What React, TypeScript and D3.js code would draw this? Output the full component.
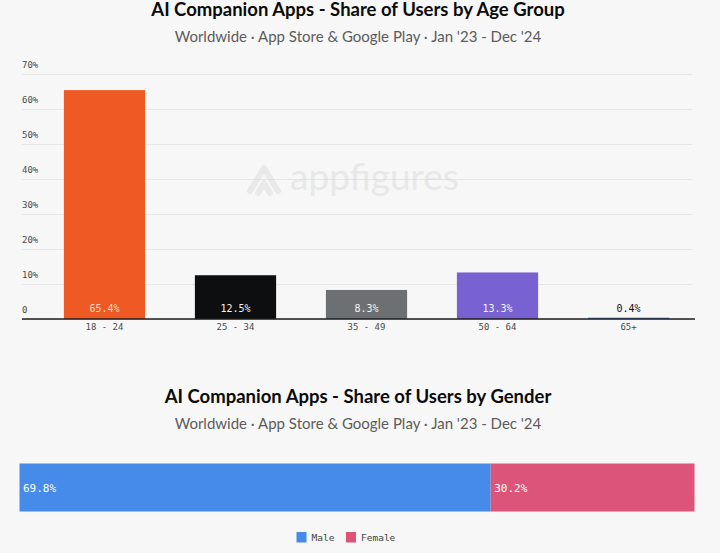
import React, {useEffect, useRef} from "react";
import * as d3 from "d3";

const ageGroups = ["18 - 24", "25 - 34", "35 - 49", "50 - 64", "65+"];
const ageShares = [65.4, 12.5, 8.3, 13.3, 0.4];
const ageColors = ["#ef5a24", "#0c0e0f", "#6c7073", "#7862d2", "#4a8be8"];
const ageTicks = [0, 10, 20, 30, 40, 50, 60, 70];

const genders = ["Male", "Female"];
const genderShares = [69.8, 30.2];
const genderColors = ["#478bea", "#dc5579"];

const subtitle = "Worldwide · App Store & Google Play · Jan '23 - Dec '24";
const sansFont = "Lato, 'Open Sans', sans-serif";
const monoFont = "'DejaVu Sans Mono', monospace";

function createChart(el: SVGSVGElement) {
  const svg = d3.select(el);
  svg.selectAll("*").remove();

  svg.append("rect").attr("width", 720).attr("height", 553).attr("fill", "#f7f7f7");

  const addTitle = (title: string, y: number) => {
    svg
      .append("text")
      .attr("x", 358)
      .attr("y", y)
      .attr("text-anchor", "middle")
      .attr("font-family", sansFont)
      .attr("font-weight", 700)
      .attr("font-size", 18.5)
      .attr("fill", "#0b0b0b")
      .text(title);
    svg
      .append("text")
      .attr("x", 358)
      .attr("y", y + 26)
      .attr("text-anchor", "middle")
      .attr("font-family", sansFont)
      .attr("font-size", 15)
      .attr("fill", "#5c5c5c")
      .text(subtitle);
  };

  addTitle("AI Companion Apps - Share of Users by Age Group", 16);
  addTitle("AI Companion Apps - Share of Users by Gender", 403);

  // Age group bars
  const x = d3
    .scaleBand()
    .domain(ageGroups)
    .range([39, 694])
    .paddingInner(0.38)
    .paddingOuter(0.19);
  const y = d3.scaleLinear().domain([0, 70]).range([319, 74]);

  const yAxis = svg
    .append("g")
    .attr("transform", "translate(22,0)")
    .call(
      d3
        .axisRight(y)
        .tickValues(ageTicks)
        .tickSize(670)
        .tickFormat((d) => (+d === 0 ? "0" : `${d}%`))
    );
  yAxis.select(".domain").remove();
  yAxis.selectAll(".tick line").attr("stroke", "#e6e6e6");
  yAxis
    .selectAll(".tick text")
    .attr("x", 0)
    .attr("dy", "-0.75em")
    .attr("text-anchor", "start")
    .attr("font-family", monoFont)
    .attr("font-size", 9)
    .attr("fill", "#4a4a4a");

  // Watermark
  const mark = svg.append("g").attr("opacity", 0.55);
  mark
    .append("path")
    .attr("d", "M250 191 L264 168 L278 191 M258 193 L264 183 L270 193")
    .attr("fill", "none")
    .attr("stroke", "#dedede")
    .attr("stroke-width", 6)
    .attr("stroke-linejoin", "round")
    .attr("stroke-linecap", "round");
  mark
    .append("text")
    .attr("x", 290)
    .attr("y", 190)
    .attr("font-family", sansFont)
    .attr("font-size", 37)
    .attr("fill", "#dcdcdc")
    .text("appfigures");

  const bars = ageGroups.map((group, i) => ({group, share: ageShares[i], color: ageColors[i]}));

  svg
    .append("g")
    .selectAll("rect")
    .data(bars)
    .enter()
    .append("rect")
    .attr("x", (d) => x(d.group) || 0)
    .attr("y", (d) => y(d.share))
    .attr("width", x.bandwidth())
    .attr("height", (d) => y(0) - y(d.share))
    .attr("fill", (d) => d.color);

  svg
    .append("g")
    .selectAll("text")
    .data(bars)
    .enter()
    .append("text")
    .attr("x", (d) => (x(d.group) || 0) + x.bandwidth() / 2)
    .attr("y", 312)
    .attr("text-anchor", "middle")
    .attr("font-family", monoFont)
    .attr("font-size", 10)
    .attr("fill", (d) => (d.share < 1 ? "#111111" : d.share > 60 ? "#fbd9c8" : "#f4f4f4"))
    .text((d) => `${d.share.toFixed(1)}%`);

  const xAxis = svg
    .append("g")
    .attr("transform", "translate(0,319)")
    .call(d3.axisBottom(x).tickSize(0).tickPadding(5));
  xAxis.select(".domain").remove();
  xAxis.selectAll("text").attr("font-family", monoFont).attr("font-size", 9).attr("fill", "#4a4a4a");

  svg
    .append("line")
    .attr("x1", 22)
    .attr("x2", 695)
    .attr("y1", y(0))
    .attr("y2", y(0))
    .attr("stroke", "#1c1c1c")
    .attr("stroke-width", 1.5);

  // Gender stacked bar
  const g = d3.scaleLinear().domain([0, 100]).range([19.5, 694.5]);
  const cumulative = d3.cumsum(genderShares);
  const segments = genders.map((gender, i) => ({
    gender,
    share: genderShares[i],
    color: genderColors[i],
    start: cumulative[i] - genderShares[i],
  }));

  const seg = svg.append("g").selectAll("g").data(segments).enter().append("g");
  seg
    .append("rect")
    .attr("x", (d) => g(d.start))
    .attr("y", 463.5)
    .attr("width", (d) => g(d.start + d.share) - g(d.start))
    .attr("height", 48)
    .attr("fill", (d) => d.color);
  seg
    .append("text")
    .attr("x", (d) => g(d.start) + 3.5)
    .attr("y", 491.5)
    .attr("font-family", monoFont)
    .attr("font-size", 11)
    .attr("fill", "#ffffff")
    .text((d) => `${d.share.toFixed(1)}%`);

  // Legend
  const legendX = d3.scaleOrdinal<string, number>().domain(genders).range([296.5, 346]);
  const legend = svg
    .append("g")
    .selectAll("g")
    .data(segments)
    .enter()
    .append("g")
    .attr("transform", (d) => `translate(${legendX(d.gender)},532)`);
  legend.append("rect").attr("width", 10).attr("height", 10.5).attr("fill", (d) => d.color);
  legend
    .append("text")
    .attr("x", 15)
    .attr("y", 9)
    .attr("font-family", monoFont)
    .attr("font-size", 9.5)
    .attr("fill", "#444444")
    .text((d) => d.gender);
}

export default function App() {
  const ref = useRef<SVGSVGElement>(null);
  useEffect(() => {
    if (ref.current) createChart(ref.current);
  }, []);

  return (
    <svg
      ref={ref}
      width={720}
      height={553}
      style={{position: "absolute", left: 0, top: 0, display: "block"}}
    />
  );
}
